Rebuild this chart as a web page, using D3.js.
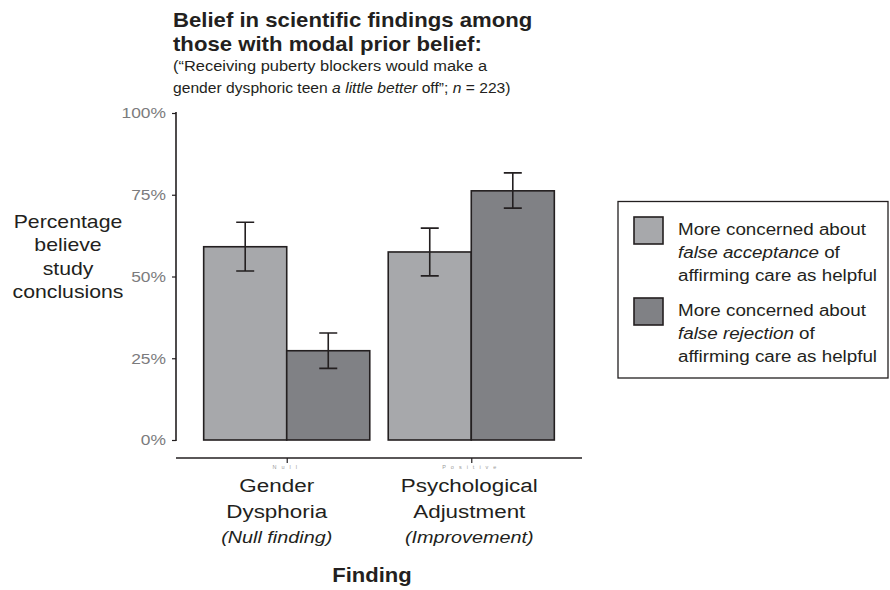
<!DOCTYPE html>
<html>
<head>
<meta charset="utf-8">
<script src="https://cdn.jsdelivr.net/npm/d3@7"></script>
<style>
  html, body { margin: 0; padding: 0; background: #fff; }
  svg { display: block; font-family: "Liberation Sans", Arial, Helvetica, sans-serif; }
</style>
</head>
<body>
<svg id="chart" width="890" height="590"></svg>
<script>
// Findings shown on the x axis
const findings = ["Null", "Positive"];
const findingLabels = [
  ["Gender", "Dysphoria", "(Null finding)"],
  ["Psychological", "Adjustment", "(Improvement)"]
];
// Respondent groups (legend entries)
const groups = ["acceptance", "rejection"];
const groupLabels = [
  ["More concerned about", ["false acceptance", " of"], "affirming care as helpful"],
  ["More concerned about", ["false rejection", " of"], "affirming care as helpful"]
];
// Share believing the study conclusions, with 95% interval bounds
const meanAcceptance = [0.591, 0.575];
const meanRejection  = [0.273, 0.762];
const lowAcceptance  = [0.517, 0.502];
const highAcceptance = [0.666, 0.648];
const lowRejection   = [0.219, 0.709];
const highRejection  = [0.327, 0.817];
const yTicks = [0, 0.25, 0.5, 0.75, 1];

const rows = [];
findings.forEach((f, i) => {
  rows.push({ finding: f, group: "acceptance", mean: meanAcceptance[i], lo: lowAcceptance[i], hi: highAcceptance[i] });
  rows.push({ finding: f, group: "rejection",  mean: meanRejection[i],  lo: lowRejection[i],  hi: highRejection[i] });
});

const svg = d3.select("#chart");
const ink = "#231f20";
const fills = { acceptance: "#a7a8ab", rejection: "#808185" };
const FONT = "'Liberation Sans', Arial, sans-serif";

// Text anchored at (x, y), widened horizontally by sx
function label(parent, x, y, sx, opts = {}) {
  return parent.append("text")
    .attr("transform", `translate(${x},${y}) scale(${sx},1)`)
    .attr("x", 0).attr("y", 0)
    .attr("text-anchor", opts.anchor || "start")
    .attr("font-size", opts.size || 16)
    .attr("font-weight", opts.weight || "normal")
    .attr("font-style", opts.style || "normal")
    .attr("fill", opts.fill || ink);
}

const panel = { left: 176, right: 582, top: 113, bottom: 440 };

// Discrete x with ggplot-style 0.6 expansion on each side
const x = d3.scalePoint().domain(findings)
  .range([panel.left, panel.right]).padding(0.6);
const unit = x.step();
const xInner = d3.scaleBand().domain(groups).range([-0.45 * unit, 0.45 * unit]).padding(0);

const y = d3.scaleLinear().domain([0, 1]).range([panel.bottom, panel.top]);

// Y axis
const yAxis = svg.append("g")
  .attr("transform", `translate(${panel.left},0)`)
  .call(d3.axisLeft(y).tickValues(yTicks).tickFormat(d3.format(".0%")).tickSize(4).tickPadding(5));
yAxis.select(".domain").attr("d", `M0,${panel.top - 1}V${panel.bottom + 1}`)
  .attr("stroke", ink).attr("stroke-width", 1.6);
yAxis.selectAll(".tick line").attr("stroke", ink).attr("stroke-width", 1.2);
yAxis.selectAll(".tick text")
  .attr("x", 0).attr("transform", "translate(-10,0) scale(1.16,1)")
  .attr("fill", "#7b7b7d").attr("font-size", 15).attr("font-family", FONT);

// X axis, set slightly below the panel
const xAxisY = 458;
const xAxis = svg.append("g")
  .attr("transform", `translate(0,${xAxisY})`)
  .call(d3.axisBottom(x).tickSize(5).tickPadding(3));
xAxis.select(".domain").attr("d", `M${panel.left},0H${panel.right}`)
  .attr("stroke", ink).attr("stroke-width", 1.6);
xAxis.selectAll(".tick line").attr("stroke", ink).attr("stroke-width", 1.2);
// tick labels are tucked under the finding captions: faint and small
xAxis.selectAll(".tick text")
  .attr("y", 0).attr("dy", 0).attr("transform", "translate(0,11)")
  .attr("fill", "#9a9a9a").attr("font-size", 5.5).attr("letter-spacing", 5)
  .attr("font-family", FONT);

// Bars
svg.append("g").selectAll("rect").data(rows).join("rect")
  .attr("x", d => x(d.finding) + xInner(d.group))
  .attr("width", xInner.bandwidth())
  .attr("y", d => y(d.mean))
  .attr("height", d => y(0) - y(d.mean))
  .attr("fill", d => fills[d.group])
  .attr("stroke", ink).attr("stroke-width", 1.6);

// Error bars
const capHalf = 9;
const eb = svg.append("g").attr("stroke", ink).attr("stroke-width", 1.6).attr("fill", "none");
rows.forEach(d => {
  const cx = x(d.finding) + xInner(d.group) + xInner.bandwidth() / 2;
  eb.append("path").attr("d",
    `M${cx - capHalf},${y(d.hi)}H${cx + capHalf}` +
    `M${cx},${y(d.hi)}V${y(d.lo)}` +
    `M${cx - capHalf},${y(d.lo)}H${cx + capHalf}`);
});

// Finding captions under the axis
const captionShift = [-10, -2];
findings.forEach((f, i) => {
  const cx = x(f) + captionShift[i];
  label(svg, cx, 492, 1.18, { anchor: "middle", size: 19 }).text(findingLabels[i][0]);
  label(svg, cx, 518, 1.18, { anchor: "middle", size: 19 }).text(findingLabels[i][1]);
  label(svg, cx, 543, 1.2, { anchor: "middle", size: 16.5, style: "italic" }).text(findingLabels[i][2]);
});

// X axis title
label(svg, 372, 582, 1.13, { anchor: "middle", size: 19.5, weight: "bold" }).text("Finding");

// Y axis title
["Percentage", "believe", "study", "conclusions"].forEach((s, i) => {
  label(svg, 68, 228 + i * 23.4, 1.18, { anchor: "middle", size: 18 }).text(s);
});

// Title and subtitle
label(svg, 173, 27, 1.136, { size: 19.5, weight: "bold" }).text("Belief in scientific findings among");
label(svg, 173, 51, 1.136, { size: 19.5, weight: "bold" }).text("those with modal prior belief:");
label(svg, 173, 71, 1.06, { size: 15.5 }).text("(\u201CReceiving puberty blockers would make a");
const l2 = label(svg, 173, 93, 1.01, { size: 15.5 });
l2.append("tspan").text("gender dysphoric teen ");
l2.append("tspan").attr("font-style", "italic").text("a little better");
l2.append("tspan").text(" off\u201D; ");
l2.append("tspan").attr("font-style", "italic").text("n");
l2.append("tspan").text(" = 223)");

// Legend
const lg = svg.append("g");
lg.append("rect").attr("x", 618).attr("y", 201.5).attr("width", 270).attr("height", 176.5)
  .attr("fill", "#fff").attr("stroke", ink).attr("stroke-width", 1.3);
groups.forEach((g, i) => {
  const top = 217 + i * 81;
  lg.append("rect").attr("x", 634).attr("y", top).attr("width", 29).attr("height", 27)
    .attr("fill", fills[g]).attr("stroke", ink).attr("stroke-width", 1.6);
  label(lg, 678, top + 18, 1.175, { size: 16 }).text(groupLabels[i][0]);
  const mid = label(lg, 678, top + 41, 1.175, { size: 16 });
  mid.append("tspan").attr("font-style", "italic").text(groupLabels[i][1][0]);
  mid.append("tspan").text(groupLabels[i][1][1]);
  label(lg, 678, top + 64, 1.175, { size: 16 }).text(groupLabels[i][2]);
});
</script>
</body>
</html>
